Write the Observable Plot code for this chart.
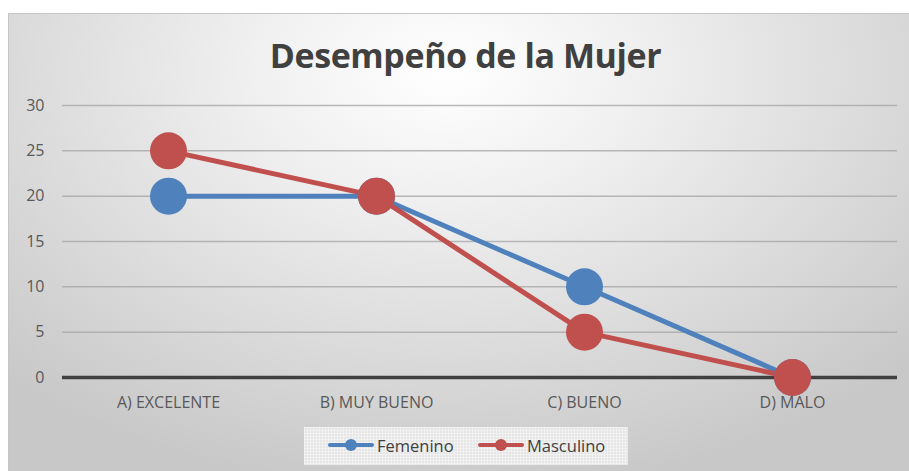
<!DOCTYPE html>
<html>
<head>
<meta charset="utf-8">
<script src="https://cdn.jsdelivr.net/npm/d3@7"></script>
<script src="https://cdn.jsdelivr.net/npm/@observablehq/plot@0.6"></script>
<style>
  html, body { margin: 0; padding: 0; background: #ffffff; }
  #page { position: relative; width: 909px; height: 471px; overflow: hidden; background: #fff; }
  #frame {
    position: absolute; left: 8px; top: 13px; width: 910px; height: 470px;
    border-top: 1px solid #c6c6c6; border-left: 1px solid #c6c6c6;
    background: radial-gradient(ellipse 70% 90% at 48% 12%, #ffffff 0%, #f0f0f0 30%, #dcdcdc 65%, #c8c8c8 100%);
  }
  #title {
    position: absolute; left: 11px; width: 909px; top: 32px; text-align: center;
    font-family: "Open Sans", "Liberation Sans", sans-serif; font-weight: 700; font-size: 34px;
    color: #404040; letter-spacing: -0.4px;
  }
  #chart { position: absolute; left: 0; top: 0; }
  #chart svg text { font-size: 16px; }
  #legend {
    position: absolute; left: 304px; top: 427px; width: 324px; height: 38px;
    background-color: #e6e6e6;
    background-image: linear-gradient(rgba(255,255,255,0.35) 1px, transparent 1px), linear-gradient(90deg, rgba(255,255,255,0.35) 1px, transparent 1px);
    background-size: 3px 3px;
    font-family: "Open Sans", "Liberation Sans", sans-serif; font-size: 16.5px; color: #404040;
  }
  .item { position: absolute; top: 8px; display: flex; align-items: center; height: 20px; }
  .sw { position: relative; width: 46px; height: 20px; margin-right: 3px; }
  .sw .ln { position: absolute; left: 0; right: 0; top: 8px; height: 4px; border-radius: 2px; }
  .sw .dt { position: absolute; left: 17px; top: 4px; width: 12px; height: 12px; border-radius: 50%; }
</style>
</head>
<body>
<div id="page">
  <div id="frame"></div>
  <div id="chart"></div>
  <div id="title">Desempeño de la Mujer</div>
  <div id="legend"></div>
</div>
<script>
const categories = ["A) EXCELENTE", "B) MUY BUENO", "C) BUENO", "D) MALO"];
const femenino = [20, 20, 10, 0];
const masculino = [25, 20, 5, 0];
const yTicks = [0, 5, 10, 15, 20, 25, 30];
const seriesNames = ["Femenino", "Masculino"];
const seriesColors = ["#4F81BD", "#C0504D"];

const data = [];
[femenino, masculino].forEach((vals, s) => {
  vals.forEach((v, i) => data.push({ serie: seriesNames[s], cat: categories[i], value: v }));
});
const fem = data.filter(d => d.serie === "Femenino");
const mas = data.filter(d => d.serie === "Masculino");

const font = '"Open Sans", "Liberation Sans", sans-serif';

const plot = Plot.plot({
  width: 909,
  height: 471,
  marginLeft: 62,
  marginRight: 12,
  marginTop: 105,
  marginBottom: 94,
  style: { background: "transparent", fontFamily: font, fontSize: "16px", color: "#595959" },
  x: { type: "point", domain: categories, padding: 0.5, label: null },
  y: { domain: [0, 30], ticks: yTicks, label: null },
  color: { domain: seriesNames, range: seriesColors },
  marks: [
    Plot.gridY(yTicks.filter(t => t > 0), { stroke: "#a8a8a8", strokeOpacity: 0.8, strokeWidth: 1.5 }),
    Plot.ruleY([0], { stroke: "#404040", strokeWidth: 3.5 }),
    Plot.axisY({ ticks: yTicks, tickSize: 0, tickPadding: 0, dx: -18, fill: "#595959" }),
    Plot.axisX({ tickSize: 0, tickPadding: 19, fill: "#595959" }),
    Plot.line(fem, { x: "cat", y: "value", stroke: "serie", strokeWidth: 5 }),
    Plot.line(mas, { x: "cat", y: "value", stroke: "serie", strokeWidth: 5 }),
    Plot.dot(fem, { x: "cat", y: "value", fill: "serie", r: 18.5 }),
    Plot.dot(mas, { x: "cat", y: "value", fill: "serie", r: 18.5 })
  ]
});
document.getElementById("chart").appendChild(plot);

// legend
const legend = document.getElementById("legend");
const lefts = [24, 174];
seriesNames.forEach((name, i) => {
  const item = document.createElement("div");
  item.className = "item";
  item.style.left = lefts[i] + "px";
  item.innerHTML = `<div class="sw"><div class="ln" style="background:${seriesColors[i]}"></div><div class="dt" style="background:${seriesColors[i]}"></div></div><span>${name}</span>`;
  legend.appendChild(item);
});
</script>
</body>
</html>
